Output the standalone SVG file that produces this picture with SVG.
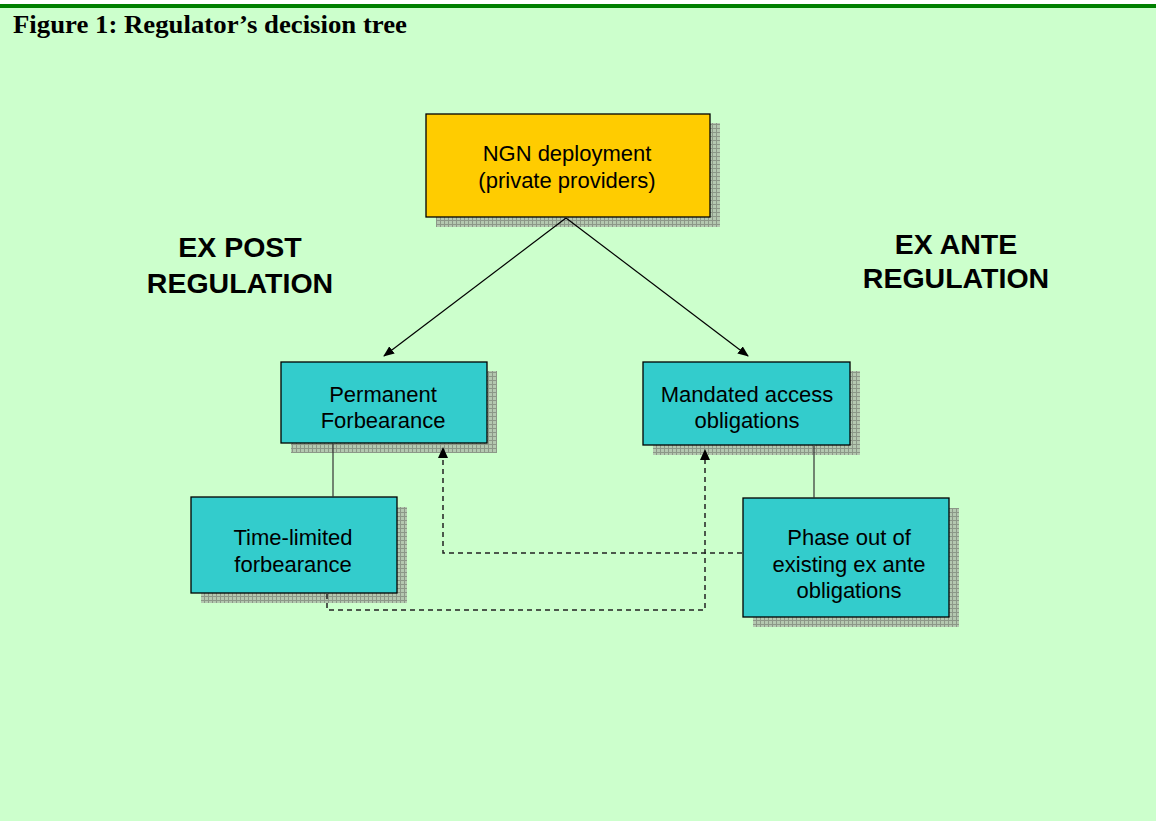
<svg xmlns="http://www.w3.org/2000/svg" width="1156" height="821" viewBox="0 0 1156 821">
<style>
.node{stroke:#000;stroke-width:1.3}
.cyan{fill:#33CCCC}
.gold{fill:#FFCC00}
.shadow{fill:url(#grid)}
.t{font-family:"Liberation Sans",Arial,sans-serif;font-size:22px;fill:#000;text-anchor:middle}
.big{font-family:"Liberation Sans",Arial,sans-serif;font-size:28.5px;font-weight:bold;fill:#000;text-anchor:middle}
.conn{stroke:#000;stroke-width:1.2;fill:none}
.solid{stroke:#333;stroke-width:1.2;fill:none}
.dash{stroke:#222;stroke-width:1.5;fill:none;stroke-dasharray:5 4}
</style>
<defs>
<pattern id="grid" width="4" height="4" patternUnits="userSpaceOnUse">
<rect width="4" height="4" fill="#B4C8B0"/>
<path d="M0 0.5H4M0.5 0V4" stroke="#8C9888" stroke-width="1"/>
</pattern>
<marker id="arr" markerWidth="11" markerHeight="9" refX="10" refY="4.5" orient="auto" markerUnits="userSpaceOnUse">
<path d="M0 0L11 4.5L0 9Z" fill="#000"/>
</marker>
</defs>
<rect x="0" y="0" width="1156" height="821" fill="#CCFFCC"/>
<rect x="0" y="0" width="1156" height="4" fill="#ffffff"/>
<rect x="0" y="4" width="1156" height="4" fill="#008000"/>
<text x="13" y="33" font-family="Liberation Serif,Times New Roman,serif" font-size="25" font-weight="bold" fill="#000" textLength="394" lengthAdjust="spacingAndGlyphs">Figure 1: Regulator’s decision tree</text>

<text class="big" x="240" y="257">EX POST</text>
<text class="big" x="240" y="293">REGULATION</text>
<text class="big" x="956" y="254">EX ANTE</text>
<text class="big" x="956" y="288">REGULATION</text>

<g id="node-ngn">
<rect class="shadow" x="436" y="123" width="284" height="104"/>
<rect class="node gold" x="426" y="114" width="284" height="103"/>
<text class="t" x="567" y="161">NGN deployment</text>
<text class="t" x="567" y="188">(private providers)</text>
</g>

<g id="node-permanent">
<rect class="shadow" x="291" y="371" width="206" height="82"/>
<rect class="node cyan" x="281" y="362" width="206" height="81"/>
<text class="t" x="383" y="402">Permanent</text>
<text class="t" x="383" y="428">Forbearance</text>
</g>

<g id="node-mandated">
<rect class="shadow" x="653" y="371" width="207" height="84"/>
<rect class="node cyan" x="643" y="362" width="207" height="83"/>
<text class="t" x="747" y="402">Mandated access</text>
<text class="t" x="747" y="428">obligations</text>
</g>

<g id="node-timelimited">
<rect class="shadow" x="201" y="507" width="206" height="96"/>
<rect class="node cyan" x="191" y="497" width="206" height="96"/>
<text class="t" x="293" y="545">Time-limited</text>
<text class="t" x="293" y="572">forbearance</text>
</g>

<g id="node-phaseout">
<rect class="shadow" x="753" y="508" width="206" height="119"/>
<rect class="node cyan" x="743" y="498" width="206" height="119"/>
<text class="t" x="849" y="545">Phase out of</text>
<text class="t" x="849" y="572">existing ex ante</text>
<text class="t" x="849" y="598">obligations</text>
</g>

<g id="connectors">
<line class="conn" x1="566" y1="218" x2="384" y2="356" marker-end="url(#arr)"/>
<line class="conn" x1="566" y1="218" x2="748" y2="356" marker-end="url(#arr)"/>
<line class="solid" x1="333" y1="444" x2="333" y2="497"/>
<line class="solid" x1="814" y1="446" x2="814" y2="498"/>
<path class="dash" d="M742 553H443V458"/>
<path d="M438 458L443 447L448 458Z" fill="#000"/>
<path class="dash" d="M327 594V610H705V460"/>
<path d="M700 460L705 449L710 460Z" fill="#000"/>
</g>
</svg>
